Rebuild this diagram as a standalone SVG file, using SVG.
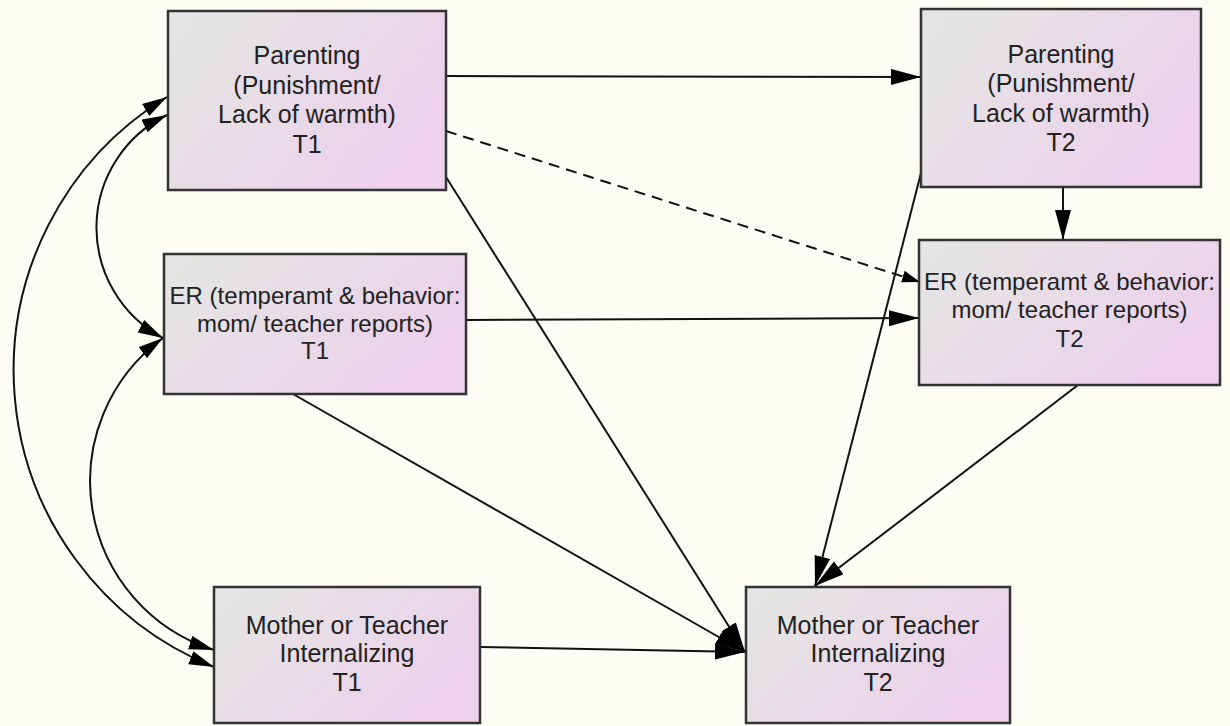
<svg xmlns="http://www.w3.org/2000/svg" width="1230" height="726" viewBox="0 0 1230 726">
<style>
.box{stroke:#333;stroke-width:2.5;fill:url(#g)}
.t{font-family:"Liberation Sans",Arial,sans-serif;fill:#222;text-anchor:middle}
.t25{font-size:25px}
.t24{font-size:24px}
.c{fill:none;stroke:#111;stroke-width:2}
</style>
<defs>
<linearGradient id="g" x1="0" y1="0" x2="1" y2="0.5">
<stop offset="0" stop-color="#e3e6e3"/>
<stop offset="0.45" stop-color="#e8dee6"/>
<stop offset="1" stop-color="#ecd0ec"/>
</linearGradient>
<marker id="a" markerUnits="userSpaceOnUse" markerWidth="32" markerHeight="18" refX="30" refY="8" orient="auto">
<path d="M0,0 L30,8 L0,16 z" fill="#000"/>
</marker>
<marker id="ac" markerUnits="userSpaceOnUse" markerWidth="28" markerHeight="16" refX="25" refY="7" orient="auto-start-reverse">
<path d="M0,0 L25,7 L0,14 z" fill="#000"/>
</marker>
<marker id="ad" markerUnits="userSpaceOnUse" markerWidth="20" markerHeight="14" refX="18" refY="6" orient="auto">
<path d="M0,0 L18,6 L0,12 z" fill="#000"/>
</marker>
</defs>
<rect width="1230" height="726" fill="#fdfdf5"/>
<g id="connectors">
<line class="c" x1="446" y1="76" x2="921" y2="77" marker-end="url(#a)"/>
<line class="c" x1="446" y1="131" x2="920" y2="282" stroke-dasharray="11 7" marker-end="url(#ad)"/>
<line class="c" x1="446" y1="177" x2="745" y2="652" marker-end="url(#a)"/>
<line class="c" x1="1063" y1="187" x2="1063" y2="240" marker-end="url(#a)"/>
<line class="c" x1="921" y1="173" x2="815" y2="586" marker-end="url(#a)"/>
<line class="c" x1="466" y1="320" x2="919" y2="318" marker-end="url(#a)"/>
<line class="c" x1="293" y1="394" x2="745" y2="652" marker-end="url(#a)"/>
<line class="c" x1="1078" y1="385" x2="815" y2="586" marker-end="url(#a)"/>
<line class="c" x1="480" y1="647" x2="745" y2="652" marker-end="url(#a)"/>
<path class="c" d="M167,97 A320,320 0 0 0 214,667" marker-start="url(#ac)" marker-end="url(#ac)"/>
<path class="c" d="M167,115 A125,125 0 0 0 163,338" marker-start="url(#ac)" marker-end="url(#ac)"/>
<path class="c" d="M163,338 A177,177 0 0 0 214,650" marker-start="url(#ac)" marker-end="url(#ac)"/>
</g>
<g id="p1">
<rect class="box" x="168" y="11" width="278" height="179"/>
<text class="t t25"><tspan x="307" y="64">Parenting</tspan><tspan x="307" y="93.5">(Punishment/</tspan><tspan x="307" y="123">Lack of warmth)</tspan><tspan x="307" y="153">T1</tspan></text>
</g>
<g id="p2">
<rect class="box" x="921" y="9" width="280" height="178"/>
<text class="t t25"><tspan x="1061" y="63">Parenting</tspan><tspan x="1061" y="92">(Punishment/</tspan><tspan x="1061" y="121.5">Lack of warmth)</tspan><tspan x="1061" y="151">T2</tspan></text>
</g>
<g id="er1">
<rect class="box" x="164" y="254" width="302" height="140"/>
<text class="t t24"><tspan x="315" y="304">ER (temperamt &amp; behavior:</tspan><tspan x="315" y="332">mom/ teacher reports)</tspan><tspan x="315" y="359">T1</tspan></text>
</g>
<g id="er2">
<rect class="box" x="919" y="240" width="301" height="145"/>
<text class="t t24"><tspan x="1069.5" y="290">ER (temperamt &amp; behavior:</tspan><tspan x="1069.5" y="318">mom/ teacher reports)</tspan><tspan x="1069.5" y="347">T2</tspan></text>
</g>
<g id="mi1">
<rect class="box" x="214" y="587" width="266" height="136"/>
<text class="t t25"><tspan x="347" y="634">Mother or Teacher</tspan><tspan x="347" y="662">Internalizing</tspan><tspan x="347" y="691">T1</tspan></text>
</g>
<g id="mi2">
<rect class="box" x="746" y="587" width="264" height="136"/>
<text class="t t25"><tspan x="878" y="634">Mother or Teacher</tspan><tspan x="878" y="662">Internalizing</tspan><tspan x="878" y="691">T2</tspan></text>
</g>
</svg>
